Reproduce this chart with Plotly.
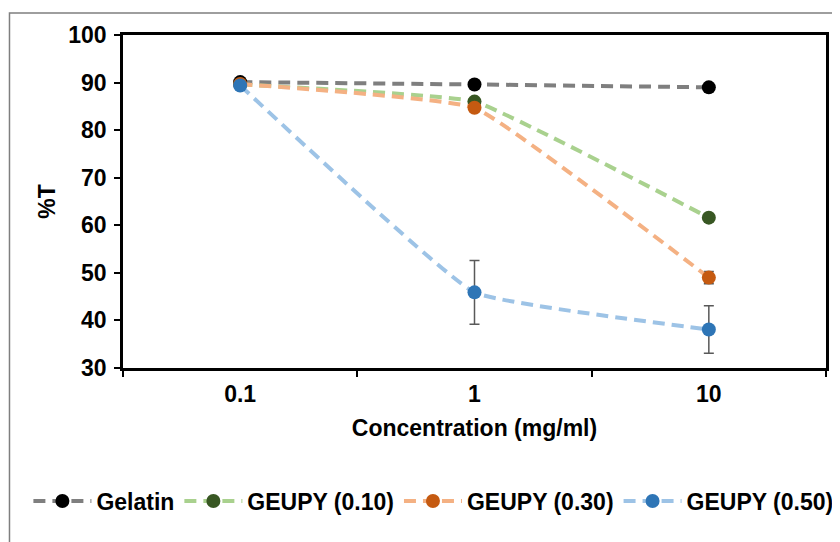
import plotly.graph_objects as go

categories = ["0.1", "1", "10"]
series_names = ["Gelatin", "GEUPY (0.10)", "GEUPY (0.30)", "GEUPY (0.50)"]
gelatin = [90.1, 89.6, 89.0]
geupy_010 = [89.6, 86.0, 61.6]
geupy_030 = [89.7, 84.7, 49.0]
geupy_050 = [89.4, 45.9, 38.1]
err_gelatin = [0.2, 0.2, 0.2]
err_010 = [0.2, 0.4, 0.5]
err_030 = [0.2, 0.5, 1.3]
err_050 = [0.3, 6.7, 5.0]
y_ticks = [30, 40, 50, 60, 70, 80, 90, 100]

values = [gelatin, geupy_010, geupy_030, geupy_050]
errors = [err_gelatin, err_010, err_030, err_050]
line_colors = ["#7F7F7F", "#A9D18E", "#F4B183", "#9DC3E6"]
marker_colors = ["#000000", "#385723", "#C55A11", "#2E75B6"]

FONT = "Liberation Sans, Arial, sans-serif"
FS = 23
# the page body has an 8px margin; lay the figure out so it lands on the 840x542 window
OFF = 8
W, H = 840 - OFF, 542 - OFF
L, T, R, B = 123 - OFF, 35 - OFF, 840 - 829, 542 - 368
PW, PH = W - L - R, H - T - B

def px_x(x):  # window px -> paper x
    return (x - OFF - L) / PW

def px_y(y):  # window px -> paper y
    return (H - B - (y - OFF)) / PH

fig = go.Figure()
for name, ys, es, lc, mc in zip(series_names, values, errors, line_colors, marker_colors):
    fig.add_trace(go.Scatter(
        x=categories, y=ys, name=name, mode="lines+markers",
        line=dict(color=lc, width=4, dash="12px,7px", shape="spline", smoothing=0.3),
        marker=dict(color=mc, size=14, line=dict(color=mc, width=0)),
        error_y=dict(type="data", array=es, color="#595959", thickness=1.5, width=5),
    ))

fig.update_layout(
    width=W, height=H,
    margin=dict(l=L, r=R, t=T, b=B),
    paper_bgcolor="white", plot_bgcolor="white",
    font=dict(family=FONT, size=FS, color="black"),
    showlegend=True,
    legend=dict(orientation="h", x=px_x(28), y=px_y(501), xanchor="left", yanchor="middle",
                font=dict(family=FONT, size=FS, color="black", weight="bold"),
                itemwidth=58, tracegroupgap=0, bgcolor="rgba(0,0,0,0)"),
    xaxis=dict(
        type="category", range=[-0.5, 2.5], tickson="boundaries",
        showline=True, linecolor="black", linewidth=2.5, mirror=True,
        ticks="outside", ticklen=6, tickwidth=2, tickcolor="black",
        showgrid=False, zeroline=False, ticklabelstandoff=4,
        tickfont=dict(family=FONT, size=FS, color="black", weight="bold"),
        title=dict(text="Concentration (mg/ml)", standoff=14,
                   font=dict(family=FONT, size=FS, color="black", weight="bold")),
    ),
    yaxis=dict(
        range=[30, 100], tickvals=y_ticks,
        showline=True, linecolor="black", linewidth=2.5, mirror=True,
        ticks="outside", ticklen=6, tickwidth=2, tickcolor="black",
        showgrid=False, zeroline=False, ticklabelstandoff=3,
        tickfont=dict(family=FONT, size=FS, color="black", weight="bold"),
        title=dict(text="%T", standoff=7,
                   font=dict(family=FONT, size=FS, color="black", weight="bold")),
    ),
)

# outer chart frame (cut off at right and bottom in the reference)
fig.add_shape(type="rect", xref="paper", yref="paper",
              x0=px_x(9), x1=px_x(870), y0=px_y(580), y1=px_y(13),
              line=dict(color="#7F7F7F", width=1.5), fillcolor="rgba(0,0,0,0)", layer="below")

fig.write_html("out.html")
